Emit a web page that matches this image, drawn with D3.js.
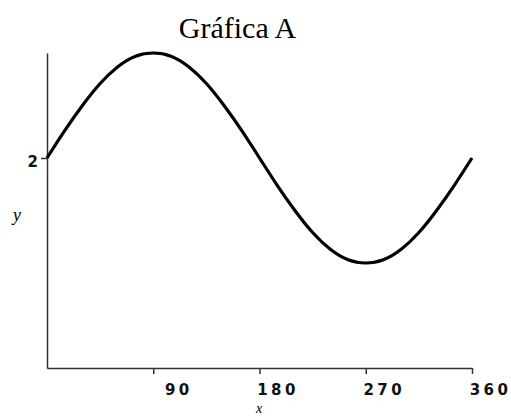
<!DOCTYPE html>
<html>
<head>
<meta charset="utf-8">
<script src="https://cdn.jsdelivr.net/npm/d3@7"></script>
<style>
  body { margin: 0; background: #fff; }
  svg { display: block; }
</style>
</head>
<body>
<svg id="chart" width="511" height="416"></svg>
<script>
// angle in degrees (x) and value (y)
const xs = [0, 15, 30, 45, 60, 75, 90, 105, 120, 135, 150, 165, 180,
            195, 210, 225, 240, 255, 270, 285, 300, 315, 330, 345, 360];
const ys = [2.00, 2.26, 2.50, 2.71, 2.87, 2.97, 3.00, 2.97, 2.87, 2.71, 2.50, 2.26, 2.00,
            1.74, 1.50, 1.29, 1.13, 1.03, 1.00, 1.03, 1.13, 1.29, 1.50, 1.74, 2.00];
const xTicks = [90, 180, 270, 360];
const yTicks = [2];

const svg = d3.select("#chart");

const x = d3.scaleLinear().domain([0, 360]).range([47, 472]);
const y = d3.scaleLinear().domain([0, 3]).range([368, 53]);

const tickFont = "'DejaVu Sans', Verdana, sans-serif";

// title
svg.append("text")
    .attr("x", 237.5).attr("y", 38)
    .attr("text-anchor", "middle")
    .attr("font-family", "'Liberation Serif', 'Times New Roman', serif")
    .attr("font-size", 30)
    .text("Gráfica A");

// x axis
const xAxis = svg.append("g")
    .attr("transform", `translate(0,${y(0)})`)
    .call(d3.axisBottom(x).tickValues(xTicks).tickFormat(d3.format("d"))
        .tickSize(6).tickSizeOuter(0));
xAxis.select(".domain").attr("stroke", "#333").attr("stroke-width", 1.5);
xAxis.selectAll(".tick line").attr("stroke", "#333").attr("stroke-width", 1.5);
xAxis.selectAll(".tick text")
    .attr("text-anchor", "end")
    .attr("x", 39)
    .attr("y", 16)
    .attr("dy", "0.71em")
    .attr("fill", "#111")
    .attr("font-family", tickFont)
    .attr("font-weight", "bold")
    .attr("font-size", 15)
    .attr("letter-spacing", 3.5);

// y axis
const yAxis = svg.append("g")
    .attr("transform", `translate(${x(0)},0)`)
    .call(d3.axisLeft(y).tickValues(yTicks).tickFormat(d3.format("d"))
        .tickSize(6).tickSizeOuter(0));
yAxis.select(".domain").attr("stroke", "#333").attr("stroke-width", 1.5);
yAxis.selectAll(".tick line").attr("stroke", "#333").attr("stroke-width", 1.5);
yAxis.selectAll(".tick text")
    .attr("x", -9)
    .attr("dy", "0.55em")
    .attr("fill", "#111")
    .attr("font-family", tickFont)
    .attr("font-weight", "bold")
    .attr("font-size", 15);

// axis titles
svg.append("text")
    .attr("x", 17).attr("y", 221)
    .attr("text-anchor", "middle")
    .attr("font-family", "'Liberation Serif', serif")
    .attr("font-style", "italic")
    .attr("font-size", 18)
    .text("y");

svg.append("text")
    .attr("x", 259).attr("y", 413)
    .attr("text-anchor", "middle")
    .attr("font-family", "'Liberation Serif', serif")
    .attr("font-style", "italic")
    .attr("font-size", 14)
    .text("x");

// curve
const line = d3.line()
    .x((d, i) => x(xs[i]))
    .y(d => y(d))
    .curve(d3.curveNatural);

svg.append("path")
    .datum(ys)
    .attr("fill", "none")
    .attr("stroke", "#000")
    .attr("stroke-width", 3.2)
    .attr("d", line);
</script>
</body>
</html>
